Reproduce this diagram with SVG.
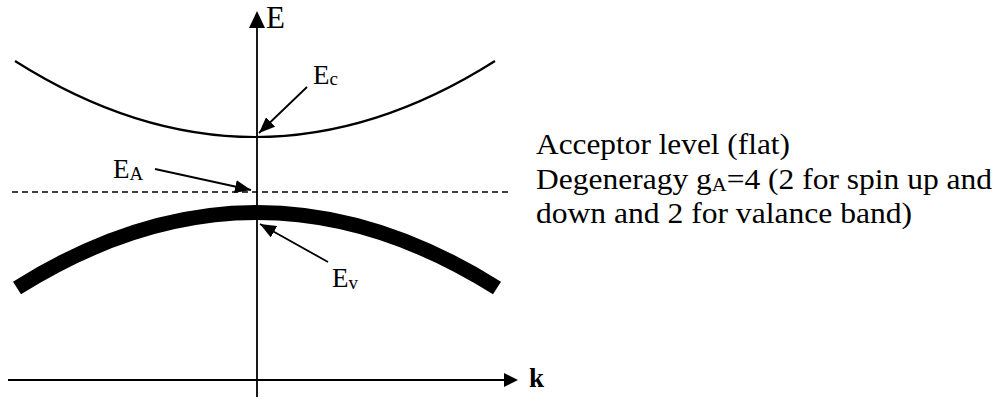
<svg xmlns="http://www.w3.org/2000/svg" width="1006" height="401" viewBox="0 0 1006 401" font-family="Liberation Serif">
<defs>
<style>
.ax{stroke:#000;stroke-width:1.8;fill:none}
.ptr{stroke:#000;stroke-width:1.8;fill:none;marker-end:url(#ah)}
</style>
<marker id="ah" markerUnits="userSpaceOnUse" markerWidth="17" markerHeight="13" refX="16" refY="6.5" orient="auto">
<path d="M0,0 L16,6.5 L0,13 z" fill="#000"/>
</marker>
</defs>
<rect width="1006" height="401" fill="#fff"/>
<g id="axes">
<line class="ax" x1="257" y1="397" x2="257" y2="26"/>
<polygon points="257,11 249,28 265,28" fill="#000"/>
<line class="ax" x1="8" y1="380" x2="507" y2="380"/>
<polygon points="518,380 504,373 504,387" fill="#000"/>
<text x="266" y="28" font-family="Liberation Serif" font-size="31">E</text>
<text x="529" y="387" font-family="Liberation Serif" font-size="27" font-weight="bold">k</text>
</g>
<g id="conduction-band">
<path d="M15,61 Q255,213 495,61" stroke="#000" stroke-width="2.2" fill="none"/>
</g>
<g id="acceptor-level">
<line x1="12" y1="192" x2="512" y2="192" stroke="#000" stroke-width="1.7" stroke-dasharray="6,4"/>
</g>
<g id="valence-band">
<path d="M17,288 Q257,137 497,288" stroke="#000" stroke-width="15" fill="none"/>
</g>
<g id="connectors">
<line class="ptr" x1="307" y1="87" x2="259" y2="133"/>
<line class="ptr" x1="155" y1="169" x2="251" y2="190"/>
<line class="ptr" x1="328" y1="262" x2="260" y2="224"/>
</g>
<g id="label-Ec">
<text x="313" y="84" font-family="Liberation Serif" font-size="27">E<tspan font-size="19" dy="1">c</tspan></text>
</g>
<g id="label-EA">
<text x="113" y="178" font-family="Liberation Serif" font-size="27">E<tspan font-size="19" dy="2">A</tspan></text>
</g>
<g id="label-Ev">
<text x="332" y="287" font-family="Liberation Serif" font-size="27">E<tspan font-size="19" dy="2">v</tspan></text>
</g>
<g id="description">
<text x="536" y="154" font-family="Liberation Serif" font-size="29" textLength="254" lengthAdjust="spacingAndGlyphs">Acceptor level (flat)</text>
<text x="536" y="189" font-family="Liberation Serif" font-size="29" textLength="456" lengthAdjust="spacingAndGlyphs">Degeneragy g<tspan font-size="19" dy="2">A</tspan><tspan dy="-2">=4 (2 for spin up and</tspan></text>
<text x="536" y="223" font-family="Liberation Serif" font-size="29" textLength="376" lengthAdjust="spacingAndGlyphs">down and 2 for valance band)</text>
</g>
</svg>
